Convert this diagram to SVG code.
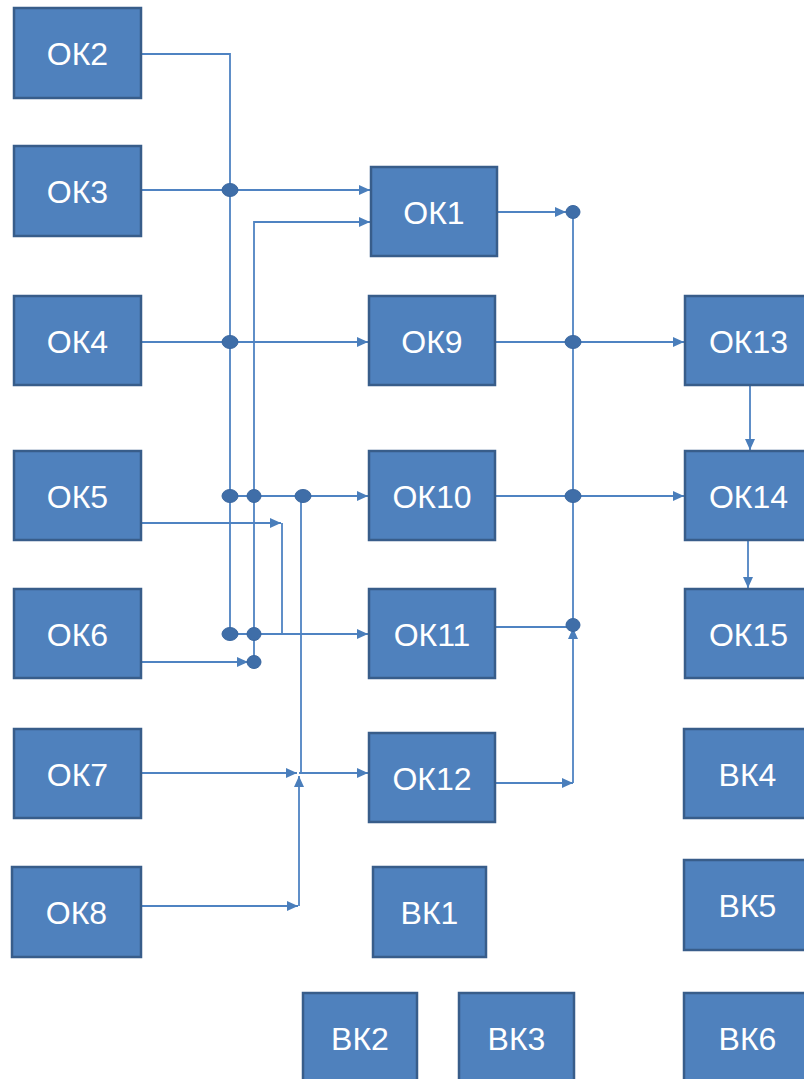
<svg xmlns="http://www.w3.org/2000/svg" width="804" height="1079" viewBox="0 0 804 1079">
<style>
.box rect{fill:#4f81bd;stroke:#385d8a;stroke-width:2.5}
.box text{fill:#ffffff;font-family:"Liberation Sans",Arial,sans-serif;font-size:32px;text-anchor:middle}
.ln{fill:none;stroke:#4f83c2;stroke-width:1.8}
.dot{fill:#3f6ea8;stroke:#3a67a0;stroke-width:1}
</style>
<defs>
<marker id="ar" markerUnits="userSpaceOnUse" markerWidth="11" markerHeight="10" refX="11" refY="5" orient="auto">
<path d="M0,0 L11,5 L0,10 z" fill="#4a7ebb"/>
</marker>
</defs>
<rect width="804" height="1079" fill="#ffffff"/>
<g id="connectors">
<path class="ln" d="M141,54 H230 V634"/>
<path class="ln" d="M141,190 H370" marker-end="url(#ar)"/>
<path class="ln" d="M254,662 V222 H370" marker-end="url(#ar)"/>
<path class="ln" d="M141,342 H368" marker-end="url(#ar)"/>
<path class="ln" d="M230,496 H368" marker-end="url(#ar)"/>
<path class="ln" d="M141,523 H281" marker-end="url(#ar)"/>
<path class="ln" d="M282,523 V634"/>
<path class="ln" d="M230,634 H368" marker-end="url(#ar)"/>
<path class="ln" d="M141,662 H248" marker-end="url(#ar)"/>
<path class="ln" d="M301,496 V773"/>
<path class="ln" d="M141,773 H297" marker-end="url(#ar)"/>
<path class="ln" d="M299,773 H368" marker-end="url(#ar)"/>
<path class="ln" d="M141,906 H298" marker-end="url(#ar)"/>
<path class="ln" d="M299,906 V776" marker-end="url(#ar)"/>
<path class="ln" d="M497,212 H566" marker-end="url(#ar)"/>
<path class="ln" d="M573,212 V625"/>
<path class="ln" d="M495,342 H684" marker-end="url(#ar)"/>
<path class="ln" d="M495,496 H684" marker-end="url(#ar)"/>
<path class="ln" d="M495,627 H573"/>
<path class="ln" d="M495,783 H573" marker-end="url(#ar)"/>
<path class="ln" d="M573,783 V628" marker-end="url(#ar)"/>
<path class="ln" d="M750,385 V450" marker-end="url(#ar)"/>
<path class="ln" d="M748,540 V588" marker-end="url(#ar)"/>
<ellipse class="dot" cx="230" cy="190" rx="8" ry="6.5"/>
<ellipse class="dot" cx="230" cy="342" rx="8" ry="6.5"/>
<ellipse class="dot" cx="230" cy="496" rx="8" ry="6.5"/>
<ellipse class="dot" cx="230" cy="634" rx="8" ry="6.5"/>
<ellipse class="dot" cx="254" cy="496" rx="7" ry="6.5"/>
<ellipse class="dot" cx="254" cy="634" rx="7" ry="6.5"/>
<ellipse class="dot" cx="254" cy="662" rx="7" ry="6.5"/>
<ellipse class="dot" cx="303" cy="496" rx="8" ry="6.5"/>
<ellipse class="dot" cx="573" cy="212" rx="7" ry="6.5"/>
<ellipse class="dot" cx="573" cy="342" rx="8" ry="6.5"/>
<ellipse class="dot" cx="573" cy="496" rx="8" ry="6.5"/>
<ellipse class="dot" cx="573" cy="625" rx="7" ry="6.5"/>
</g>
<g id="OK2" class="box"><rect x="14" y="8" width="127" height="90"/><text x="77.5" y="65">ОК2</text></g>
<g id="OK3" class="box"><rect x="14" y="146" width="127" height="90"/><text x="77.5" y="203">ОК3</text></g>
<g id="OK4" class="box"><rect x="14" y="296" width="127" height="89"/><text x="77.5" y="353">ОК4</text></g>
<g id="OK5" class="box"><rect x="14" y="451" width="127" height="89"/><text x="77.5" y="508">ОК5</text></g>
<g id="OK6" class="box"><rect x="14" y="589" width="127" height="89"/><text x="77.5" y="646">ОК6</text></g>
<g id="OK7" class="box"><rect x="14" y="729" width="127" height="89"/><text x="77.5" y="786">ОК7</text></g>
<g id="OK8" class="box"><rect x="12" y="867" width="129" height="90"/><text x="76.5" y="924">ОК8</text></g>
<g id="OK1" class="box"><rect x="371" y="167" width="126" height="89"/><text x="434" y="224">ОК1</text></g>
<g id="OK9" class="box"><rect x="369" y="296" width="126" height="89"/><text x="432" y="353">ОК9</text></g>
<g id="OK10" class="box"><rect x="369" y="451" width="126" height="89"/><text x="432" y="508">ОК10</text></g>
<g id="OK11" class="box"><rect x="369" y="589" width="126" height="89"/><text x="432" y="646">ОК11</text></g>
<g id="OK12" class="box"><rect x="369" y="733" width="126" height="89"/><text x="432" y="790">ОК12</text></g>
<g id="BK1" class="box"><rect x="373" y="867" width="113" height="90"/><text x="429.5" y="924">ВК1</text></g>
<g id="BK2" class="box"><rect x="303" y="993" width="114" height="92"/><text x="360" y="1050">ВК2</text></g>
<g id="BK3" class="box"><rect x="459" y="993" width="115" height="92"/><text x="516.5" y="1050">ВК3</text></g>
<g id="OK13" class="box"><rect x="685" y="296" width="127" height="89"/><text x="748.5" y="353">ОК13</text></g>
<g id="OK14" class="box"><rect x="685" y="451" width="127" height="89"/><text x="748.5" y="508">ОК14</text></g>
<g id="OK15" class="box"><rect x="685" y="589" width="127" height="89"/><text x="748.5" y="646">ОК15</text></g>
<g id="BK4" class="box"><rect x="684" y="729" width="127" height="89"/><text x="747.5" y="786">ВК4</text></g>
<g id="BK5" class="box"><rect x="684" y="860" width="127" height="90"/><text x="747.5" y="917">ВК5</text></g>
<g id="BK6" class="box"><rect x="684" y="993" width="127" height="92"/><text x="747.5" y="1050">ВК6</text></g>
</svg>
